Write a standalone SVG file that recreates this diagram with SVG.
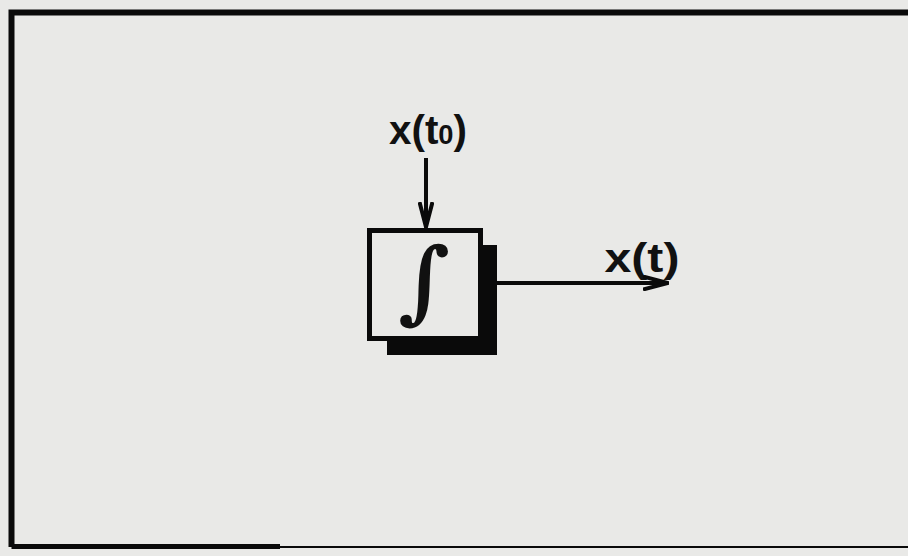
<svg xmlns="http://www.w3.org/2000/svg" width="908" height="556" viewBox="0 0 908 556">
<defs>
<style>
.ln{stroke:#0a0a0a;fill:none;stroke-linecap:butt}
.lbl{font-family:"Liberation Sans","DejaVu Sans",sans-serif;fill:#111;font-weight:bold}
</style>
<marker id="ah2" viewBox="0 0 26 16" refX="25" refY="8" markerWidth="26" markerHeight="16" markerUnits="userSpaceOnUse" orient="auto">
<path d="M0,1.5 L25,8 L0,14.5" fill="none" stroke="#0a0a0a" stroke-width="4"/>
</marker>
</defs>
<rect width="908" height="556" fill="#e9e9e7"/>
<g id="frame">
<path class="ln" d="M908,12.5 L11.5,12.5 L11.5,547" stroke-width="6"/>
<path class="ln" d="M11.5,546.5 L280,546.5" stroke-width="5"/>
<path class="ln" d="M280,547 L908,547" stroke-width="2"/>
</g>
<g id="integrator">
<rect x="387" y="245" width="110" height="110" fill="#0a0a0a"/>
<rect x="369.5" y="230.5" width="111" height="108" fill="#e9e9e7" stroke="#0a0a0a" stroke-width="5"/>
<text x="424" y="312" class="lbl" font-size="90" font-weight="normal" text-anchor="middle" style="font-family:'DejaVu Serif',serif">∫</text>
</g>
<g id="labels">
<text x="428" y="144" class="lbl" font-size="40" text-anchor="middle" textLength="78" lengthAdjust="spacingAndGlyphs">x(t<tspan font-size="27">0</tspan>)</text>
<text x="642" y="272" class="lbl" font-size="40" text-anchor="middle" textLength="75" lengthAdjust="spacingAndGlyphs">x(t)</text>
</g>
<g id="connectors">
<line class="ln" x1="426" y1="158" x2="426" y2="227" stroke-width="4" marker-end="url(#ah2)"/>
<line class="ln" x1="497" y1="283" x2="668" y2="283" stroke-width="4" marker-end="url(#ah2)"/>
</g>
</svg>
